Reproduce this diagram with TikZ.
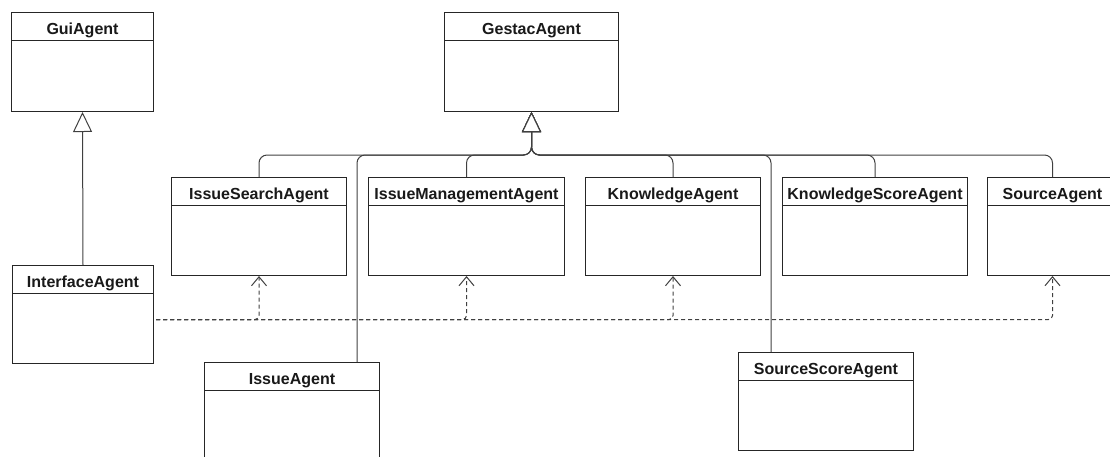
\documentclass[tikz,border=0pt]{standalone}
\usepackage{fontspec}
\setmainfont{Liberation Sans}
\usetikzlibrary{arrows.meta}

\tikzset{
  clsbox/.style={draw=black!85, line width=1pt, rectangle, inner sep=0pt, fill=white},
  clsline/.style={draw=black!85, line width=1pt},
  clstitle/.style={font=\fontsize{16}{19}\selectfont\bfseries, inner sep=0pt, text=black!90},
  inherit/.style={draw=black!75, line width=1pt, rounded corners=8pt,
    -{Triangle[length=20pt, width=19pt, fill=white]}},
  depend/.style={draw=black!75, line width=1pt, dash pattern=on 4pt off 3pt,
    rounded corners=4pt, -{Straight Barb[length=9pt, width=15pt]}},
}

% UML class: name, left, top, width, height, title
\newcommand\classbox[6]{%
  \node[clsbox, minimum width=#4pt, minimum height=#5pt, anchor=north west] (#1) at (#2,#3) {};
  \draw[clsline] ([yshift=-28.7pt]#1.north west) -- ([yshift=-28.7pt]#1.north east);
  \node[clstitle, anchor=base] (#1-t) at ([yshift=-22.7pt]#1.north) {#6};
}

\begin{document}
\begin{tikzpicture}[x=1pt, y=-1pt]
  \useasboundingbox (0,0) rectangle (1110,456);

  % classes
  \classbox{gui}{11}{12}{142}{99}{GuiAgent}
  \classbox{gestac}{444}{12}{174}{99}{GestacAgent}
  \classbox{iface}{12}{265}{141}{98}{InterfaceAgent}
  \classbox{isearch}{171}{177}{175}{98}{IssueSearchAgent}
  \classbox{imgmt}{368}{177}{196}{98}{IssueManagementAgent}
  \classbox{know}{585}{177}{175}{98}{KnowledgeAgent}
  \classbox{kscore}{782}{177}{185}{98}{KnowledgeScoreAgent}
  \classbox{source}{987}{177}{130}{98}{SourceAgent}
  \classbox{issue}{204}{362}{175}{110}{IssueAgent}
  \classbox{sscore}{738}{352}{175}{98}{SourceScoreAgent}

  % junction of the generalisation tree below GestacAgent
  \coordinate (hub) at (gestac.south |- 0,155);

  % generalisations
  \draw[inherit] (iface.north) -- (gui.south);
  \draw[inherit] (isearch.north) |- (hub) -- (gestac.south);
  \draw[inherit] (imgmt.north) |- (hub) -- (gestac.south);
  \draw[inherit] (know.north) |- (hub) -- (gestac.south);
  \draw[inherit] (kscore.north) |- (hub) -- (gestac.south);
  \draw[inherit] (source.north) |- (hub) -- (gestac.south);
  \draw[inherit] ([xshift=153pt]issue.north west) |- (hub) -- (gestac.south);
  \draw[inherit] ([xshift=33pt]sscore.north west) |- (hub) -- (gestac.south);

  % dependencies of InterfaceAgent
  \coordinate (dep) at ([xshift=2pt, yshift=-5pt]iface.east);
  \draw[depend] (dep) -| (isearch.south);
  \draw[depend] (dep) -| (imgmt.south);
  \draw[depend] (dep) -| (know.south);
  \draw[depend] (dep) -| (source.south);
\end{tikzpicture}
\end{document}
